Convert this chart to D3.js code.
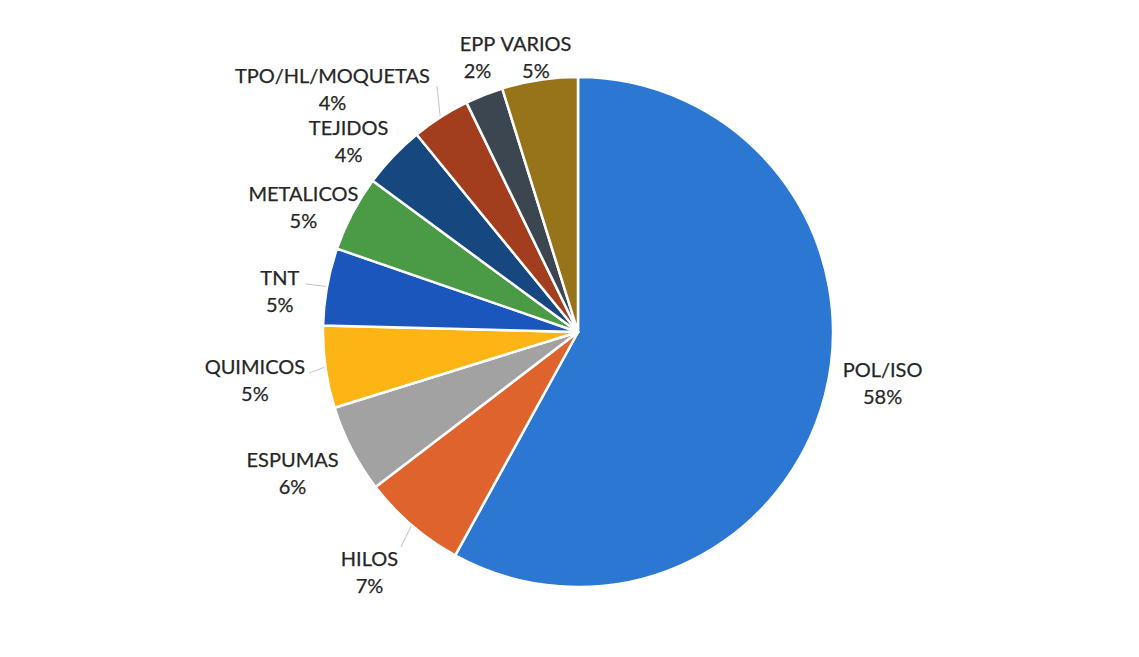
<!DOCTYPE html>
<html>
<head>
<meta charset="utf-8">
<script src="https://cdn.jsdelivr.net/npm/d3@7"></script>
<style>
  body { margin: 0; background: #fff; }
  text { font-family: Lato, "Open Sans", sans-serif; fill: #262626; stroke: #262626; stroke-width: 0.25px; }
</style>
</head>
<body>
<div id="chart"></div>
<script>
// slices, clockwise from 12 o'clock (percent)
var categories = ['POL/ISO', 'HILOS', 'ESPUMAS', 'QUIMICOS', 'TNT', 'METALICOS', 'TEJIDOS', 'TPO/HL/MOQUETAS', 'EPP', 'VARIOS']
var values = [58.0, 6.6, 5.6, 5.2, 4.9, 4.8, 4.0, 3.7, 2.4, 4.8]
var colors = ['#2b77d2', '#de632c', '#a2a2a2', '#fdb415', '#1b56bd', '#4b9a46', '#16487f', '#a23d1d', '#3c4650', '#977419']

var width = 1139, height = 657
var cx = 578, cy = 332, radius = 255

// label nudges (px) away from the default spot at r=300, excel moves them around
var nudge = {
  'POL/ISO': [14, -23], 'HILOS': [-13, 13], 'ESPUMAS': [-19, 3], 'QUIMICOS': [-26, 7],
  'TNT': [-3, 13], 'METALICOS': [-9, 15], 'TEJIDOS': [-12, 16], 'TPO/HL/MOQUETAS': [-84, 10],
  'EPP': [10, 4], 'VARIOS': [3, 22]
}
// which labels get a little leader line
var leaders = {'TPO/HL/MOQUETAS': [437, 86], 'TNT': [306, 284], 'QUIMICOS': [309, 373], 'HILOS': [401, 547]}

var data = categories.map(function(d, i){ return {name: d, value: values[i], color: colors[i]} })

var svg = d3.select('#chart').append('svg')
  .attr('width', width).attr('height', height)

var g = svg.append('g').attr('transform', 'translate(' + cx + ',' + cy + ')')

var pie = d3.pie().sort(null).value(function(d){ return d.value })
var arcs = pie(data)
var total = d3.sum(values)

var arc = d3.arc().innerRadius(0).outerRadius(radius)

g.selectAll('path.slice').data(arcs).enter().append('path')
  .attr('class', 'slice')
  .attr('d', arc)
  .attr('fill', function(d){ return d.data.color })
  .attr('stroke', '#fff')
  .attr('stroke-width', 2.5)
  .attr('stroke-linejoin', 'round')

function midAngle(d){ return (d.startAngle + d.endAngle) / 2 }

// leader lines, drawn before labels
arcs.forEach(function(d){
  var from = leaders[d.data.name]
  if (!from) return
  var a = midAngle(d)
  svg.append('line')
    .attr('x1', from[0]).attr('y1', from[1])
    .attr('x2', cx + Math.sin(a) * (radius + 1)).attr('y2', cy - Math.cos(a) * (radius + 1))
    .attr('stroke', '#c4c4c4').attr('stroke-width', 1)
})

var lineGap = 27, capH = 14.5
var labels = svg.selectAll('g.lab').data(arcs).enter().append('g')
  .attr('class', 'lab')
  .attr('transform', function(d){
    var a = midAngle(d), n = nudge[d.data.name] || [0, 0]
    var x = cx + Math.sin(a) * 300 + n[0]
    var y = cy - Math.cos(a) * 300 + n[1]
    return 'translate(' + x + ',' + y + ')'
  })

labels.append('text')
  .attr('text-anchor', 'middle')
  .attr('y', (lineGap + capH) / 2 - lineGap)
  .style('font-size', '20px')
  .text(function(d){ return d.data.name })

labels.append('text')
  .attr('text-anchor', 'middle')
  .attr('y', (lineGap + capH) / 2)
  .style('font-size', '20px')
  .text(function(d){ return Math.round(d.data.value / total * 100) + '%' })
</script>
</body>
</html>
